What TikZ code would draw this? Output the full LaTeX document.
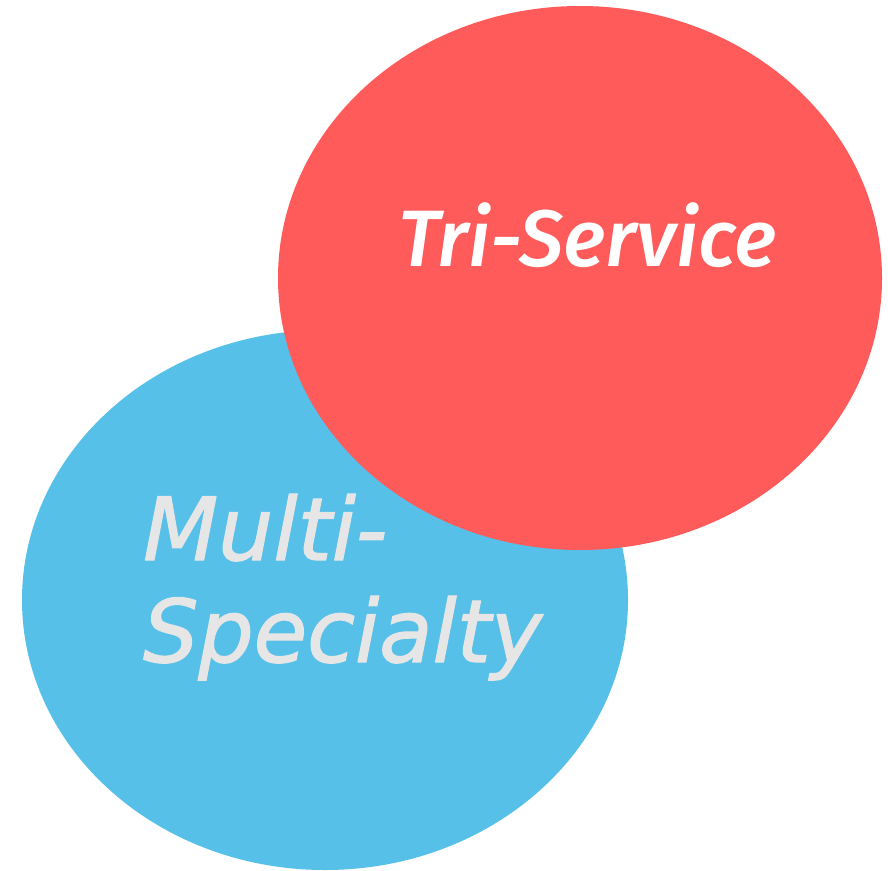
\documentclass[tikz,border=0pt]{standalone}
\usepackage{xcolor}
\usepackage{fontspec}
\usepackage{tikz}
\usetikzlibrary{shapes, positioning}
\newfontfamily\trifont{Fira Sans}[UprightFont=* Medium, ItalicFont=* Medium Italic]
\newfontfamily\multifont{DejaVu Sans}[FakeBold=1.5]
\definecolor{redfill}{HTML}{FF5B5B}
\definecolor{bluefill}{HTML}{56C0E8}
\definecolor{lightgray}{HTML}{E6E6E6}
\begin{document}
\begin{tikzpicture}
  [
    x=1pt, y=1pt,
    Blue/.style={ellipse, fill=bluefill, inner sep=0pt, minimum width=606pt, minimum height=540pt},
    Red/.style={ellipse, fill=redfill, inner sep=0pt, minimum width=604pt, minimum height=544pt},
    Label/.style={inner sep=0pt, anchor=base west}
  ]
  \useasboundingbox (0, 0) rectangle (888, -870);
  % Nodes
  \node[Blue] (multi) at(325, -600) {};
  \node[Red] (tri) at(580, -278) {};

  % Labels
  \node[Label, text=white, font=\trifont\itshape\fontsize{80}{80}\selectfont] (trilabel) at(398, -266) {Tri-Service};
  \node[Label, text=lightgray, align=left, font=\multifont\itshape\fontsize{87}{102}\selectfont] (multilabel) at(143, -662) {Multi-\\Specialty};

\end{tikzpicture}
\end{document}
